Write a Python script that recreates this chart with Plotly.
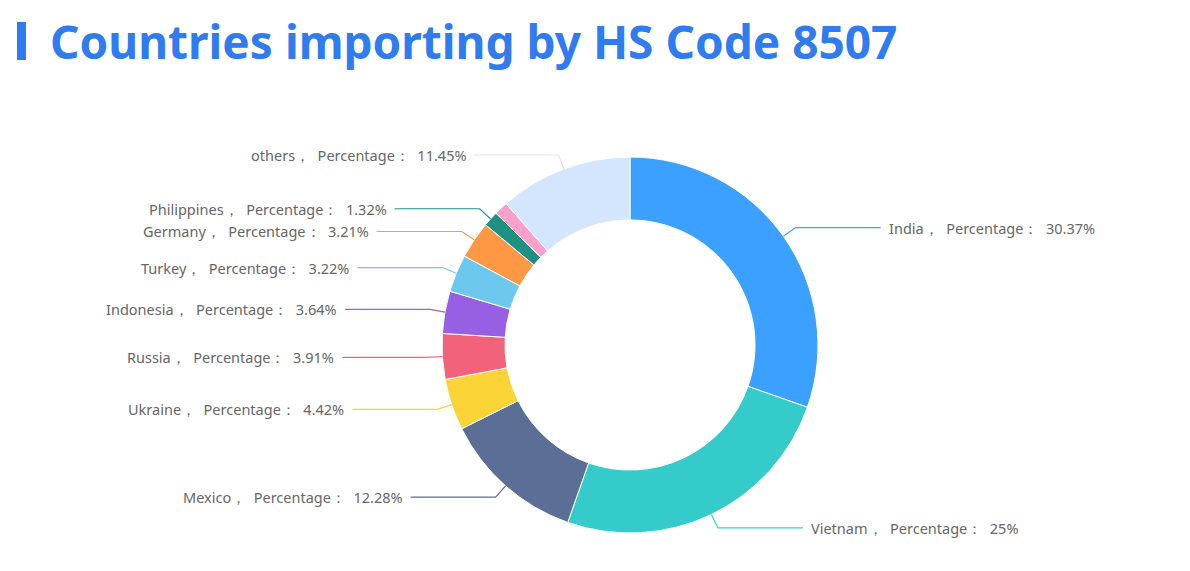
import math
import plotly.graph_objects as go

countries = ["India", "Vietnam", "Mexico", "Ukraine", "Russia", "Indonesia", "Turkey", "Germany", "Philippines", "", "others"]
percentages = [30.37, 25, 12.28, 4.42, 3.91, 3.64, 3.22, 3.21, 1.32, 1.18, 11.45]
colors = ["#3ba0ff", "#36cbcb", "#5b6e96", "#fad337", "#f2637b", "#975fe4", "#6cc8ec", "#ff9845", "#1f9084", "#fb9fcb", "#d3e6fd"]

W, H = 1190, 571
OFF = 8  # page body margin
cx, cy, R = 630 - OFF, 345 - OFF, 188

fig = go.Figure(go.Pie(
    labels=[c if c else " " for c in countries], values=percentages,
    marker=dict(colors=colors, line=dict(color="white", width=1)),
    hole=0.665, sort=False, direction="clockwise", rotation=0,
    textinfo="none", hoverinfo="label+percent", showlegend=False,
    domain=dict(x=[(cx - R) / W, (cx + R) / W], y=[(H - cy - R) / H, (H - cy + R) / H]),
))

total = sum(percentages)
cum = 0
items = []
for name, v, col in zip(countries, percentages, colors):
    mid = (cum + v / 2) / total
    cum += v
    if not name:
        continue
    th = math.radians(90 - 360 * mid)
    ex, ey = cx + R * math.cos(th), cy - R * math.sin(th)
    bx, by = cx + (R + 15) * math.cos(th), cy - (R + 15) * math.sin(th)
    items.append(dict(name=name, v=v, col=col, ex=ex, ey=ey, bx=bx, by=by, right=math.cos(th) > 0))

for side in (True, False):
    grp = sorted([i for i in items if i["right"] == side], key=lambda i: i["by"])
    for a, b in zip(grp, grp[1:]):
        if b["by"] - a["by"] < 22:
            b["by"] = a["by"] + 22

def P(x, y):
    return x / W, 1 - y / H

for it in items:
    lx = it["bx"] + (85 if it["right"] else -85)
    x0, y0 = P(it["ex"], it["ey"]); x1, y1 = P(it["bx"], it["by"]); x2, y2 = P(lx, it["by"])
    fig.add_shape(type="path", xref="paper", yref="paper",
                  path=f"M {x0} {y0} L {x1} {y1} L {x2} {y2}",
                  line=dict(color=it["col"], width=1.2))
    val = f"{it['v']:g}%"
    fig.add_annotation(xref="paper", yref="paper", x=P(lx + (6 if it["right"] else -6), 0)[0], y=y2,
                       text=f"{it['name']}，  Percentage：  {val}", showarrow=False,
                       xanchor="left" if it["right"] else "right", yanchor="middle",
                       font=dict(size=14.5, color="#666666", family="Noto Sans"))

fig.add_shape(type="rect", xref="paper", yref="paper", x0=(17 - OFF) / W, x1=(26 - OFF) / W,
              y0=1 - (60 - OFF) / H, y1=1 - (22 - OFF) / H, fillcolor="#2f7bf0", line=dict(width=0))
fig.add_annotation(xref="paper", yref="paper", x=(48 - OFF) / W, y=1 - (41 - OFF) / H, xanchor="left", yanchor="middle",
                   text="<b>Countries importing by HS Code 8507</b>", showarrow=False,
                   font=dict(size=46, color="#2f7bf0", family="Noto Sans"))

fig.update_layout(width=W, height=H, margin=dict(l=0, r=0, t=0, b=0),
                  paper_bgcolor="white", plot_bgcolor="white")
fig.write_html("out.html")
